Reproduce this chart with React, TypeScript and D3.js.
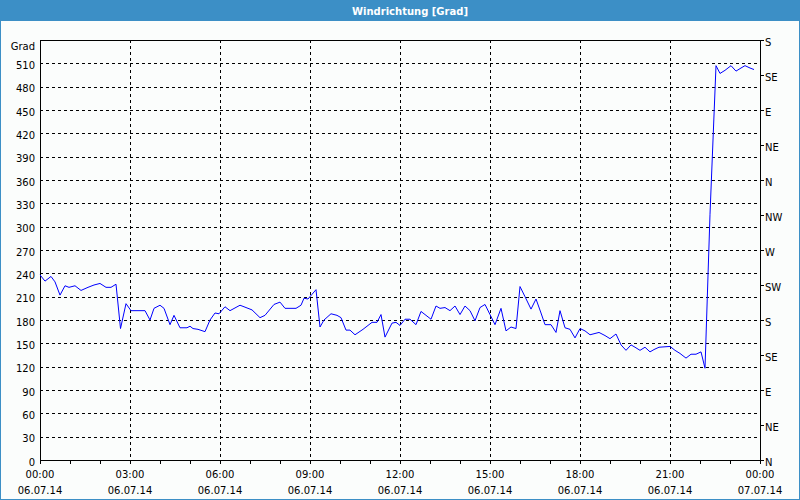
import React, { useEffect, useRef } from "react";
import * as d3 from "d3";

// minutes after 06.07.14 00:00
const minutes = [
  0, 10, 22, 30, 40, 50, 58, 70, 82, 96, 108, 120, 132, 142, 152, 161, 172, 182, 210, 220,
  228, 240, 248, 260, 268, 280, 294, 300, 306, 316, 330, 340, 350, 358, 370, 380, 400, 424, 440, 450,
  468, 480, 490, 512, 522, 528, 536, 544, 552, 560, 568, 582, 594, 602, 612, 620, 630, 646, 664, 674,
  682, 690, 704, 712, 720, 730, 740, 752, 762, 772, 782, 792, 800, 810, 820, 830, 840, 850, 860, 870,
  880, 890, 900, 910, 922, 932, 942, 952, 960, 970, 982, 992, 1002, 1010, 1022, 1032, 1040, 1050, 1060, 1070,
  1080, 1090, 1100, 1118, 1130, 1140, 1152, 1162, 1172, 1182, 1190, 1200, 1210, 1220, 1228, 1238, 1260, 1270, 1280, 1292,
  1302, 1312, 1322, 1330, 1340, 1352, 1360, 1370, 1382, 1392, 1402, 1410, 1420, 1428,
];
const degrees = [
  238, 230, 236, 229, 212, 224, 222, 224, 218, 222, 225, 227, 222, 222, 226, 169, 201, 192, 192, 180,
  195, 199, 195, 174, 186, 170, 170, 172, 169, 168, 165, 180, 189, 188, 197, 192, 199, 193, 183, 186,
  200, 203, 195, 195, 199, 208, 207, 213, 219, 171, 180, 188, 186, 183, 167, 167, 161, 168, 177, 177,
  187, 158, 176, 177, 173, 181, 181, 174, 191, 186, 181, 198, 195, 196, 192, 198, 187, 198, 192, 179,
  196, 200, 187, 174, 195, 166, 171, 169, 223, 210, 194, 207, 189, 174, 174, 164, 192, 170, 168, 157,
  169, 166, 161, 164, 160, 156, 162, 148, 141, 148, 145, 141, 145, 139, 142, 145, 146, 141, 137, 131,
  136, 136, 139, 118, 316, 507, 497, 501, 507, 500, 504, 507, 504, 502,
];

const leftTicks = [0, 30, 60, 90, 120, 150, 180, 210, 240, 270, 300, 330, 360, 390, 420, 450, 480, 510];
const compassValues = [0, 45, 90, 135, 180, 225, 270, 315, 360, 405, 450, 495, 540];
const compassLabels = ["N", "NE", "E", "SE", "S", "SW", "W", "NW", "N", "NE", "E", "SE", "S"];
const timeTickHours = [0, 3, 6, 9, 12, 15, 18, 21, 24];
const timeLabels = ["00:00", "03:00", "06:00", "09:00", "12:00", "15:00", "18:00", "21:00", "00:00"];
const dateLabels = ["06.07.14", "06.07.14", "06.07.14", "06.07.14", "06.07.14", "06.07.14", "06.07.14", "06.07.14", "07.07.14"];

const W = 800;
const H = 500;
const FONT = "DejaVu Sans, Verdana, sans-serif";

export default function App() {
  const ref = useRef<SVGSVGElement>(null);

  useEffect(() => {
    const svg = d3.select(ref.current);
    svg.selectAll("*").remove();

    const x0 = 40, x1 = 760, y0 = 40, y1 = 460;
    const x = d3.scaleLinear().domain([0, 24]).range([x0, x1]);
    const y = d3.scaleLinear().domain([0, 540]).range([y1, y0]);

    // background & frame
    svg.append("rect").attr("x", 0).attr("y", 0).attr("width", W).attr("height", H).attr("fill", "#fbfdfc");
    svg.append("rect").attr("x", 0.5).attr("y", 0.5).attr("width", W - 1).attr("height", H - 1)
      .attr("fill", "none").attr("stroke", "#3c8fc6").attr("stroke-width", 1);
    svg.append("rect").attr("x", 0).attr("y", 0).attr("width", W).attr("height", 21).attr("fill", "#3c8fc6");
    svg.append("text").attr("x", 410).attr("y", 14.5).attr("text-anchor", "middle")
      .attr("font-family", FONT).attr("font-size", 10).attr("font-weight", "bold").attr("fill", "#ffffff")
      .text("Windrichtung [Grad]");

    const g = svg.append("g").attr("shape-rendering", "crispEdges");

    // horizontal grid
    g.selectAll("line.hg").data(leftTicks.filter((d) => d > 0)).enter().append("line")
      .attr("x1", x0).attr("x2", x1).attr("y1", (d) => Math.round(y(d)) + 0.5).attr("y2", (d) => Math.round(y(d)) + 0.5)
      .attr("stroke", "#000").attr("stroke-dasharray", "3,3");
    // vertical grid
    g.selectAll("line.vg").data(timeTickHours.filter((d) => d > 0 && d < 24)).enter().append("line")
      .attr("x1", (d) => Math.round(x(d)) + 0.5).attr("x2", (d) => Math.round(x(d)) + 0.5)
      .attr("y1", y0).attr("y2", y1)
      .attr("stroke", "#000").attr("stroke-dasharray", "3,3");

    // frame lines
    g.append("rect").attr("x", x0 + 0.5).attr("y", y0 + 0.5).attr("width", x1 - x0).attr("height", y1 - y0)
      .attr("fill", "none").attr("stroke", "#000");

    // hourly ticks on bottom
    g.selectAll("line.bt").data(d3.range(0, 25)).enter().append("line")
      .attr("x1", (d) => Math.round(x(d)) + 0.5).attr("x2", (d) => Math.round(x(d)) + 0.5)
      .attr("y1", y1).attr("y2", y1 + 4).attr("stroke", "#000");

    // right ticks
    g.selectAll("line.rt").data(compassValues).enter().append("line")
      .attr("x1", x1).attr("x2", x1 + 4)
      .attr("y1", (d) => Math.round(y(d)) + 0.5).attr("y2", (d) => Math.round(y(d)) + 0.5)
      .attr("stroke", "#000");

    // left labels
    svg.selectAll("text.yl").data(leftTicks).enter().append("text")
      .attr("x", 35).attr("y", (d) => y(d) + 5.5).attr("text-anchor", "end")
      .attr("font-family", FONT).attr("font-size", 10).attr("fill", "#000")
      .text((d) => String(d));
    svg.append("text").attr("x", 35).attr("y", 50).attr("text-anchor", "end")
      .attr("font-family", FONT).attr("font-size", 10).attr("fill", "#000").text("Grad");

    // right labels
    svg.selectAll("text.rl").data(compassValues).enter().append("text")
      .attr("x", 765).attr("y", (_d, i) => y(compassValues[i]) + 6).attr("text-anchor", "start")
      .attr("font-family", FONT).attr("font-size", 10).attr("fill", "#000")
      .text((_d, i) => compassLabels[i]);

    // bottom labels
    svg.selectAll("text.tl").data(timeTickHours).enter().append("text")
      .attr("x", (d) => x(d)).attr("y", 478).attr("text-anchor", "middle")
      .attr("font-family", FONT).attr("font-size", 10).attr("fill", "#000")
      .text((_d, i) => timeLabels[i]);
    svg.selectAll("text.dl").data(timeTickHours).enter().append("text")
      .attr("x", (d) => x(d)).attr("y", 494).attr("text-anchor", "middle")
      .attr("font-family", FONT).attr("font-size", 10).attr("fill", "#000")
      .text((_d, i) => dateLabels[i]);

    // data line
    const pts: [number, number][] = minutes.map((m, i) => [m / 60, degrees[i]]);
    const line = d3.line<[number, number]>().x((d) => x(d[0])).y((d) => y(d[1]));
    svg.append("path").attr("d", line(pts) as string).attr("fill", "none")
      .attr("stroke", "#0000ff").attr("stroke-width", 1);
  }, []);

  return (
    <div style={{ position: "fixed", left: 0, top: 0 }}>
      <svg ref={ref} width={W} height={H} style={{ display: "block" }} />
    </div>
  );
}
